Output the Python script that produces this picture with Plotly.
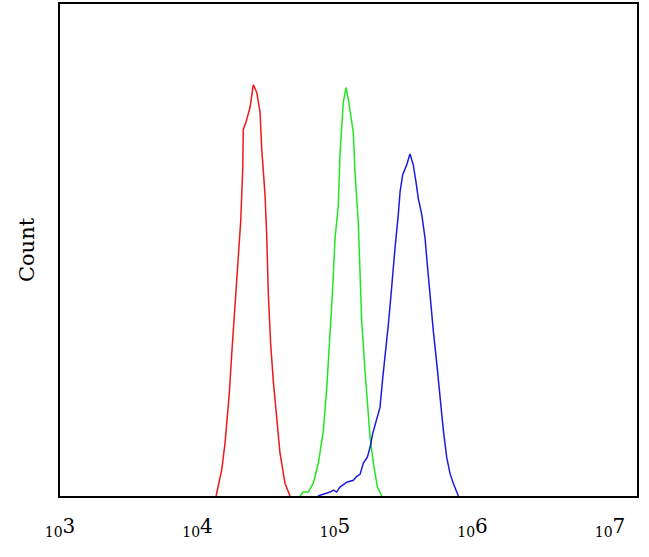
import plotly.graph_objects as go

# log10 fluorescence intensity and counts (arbitrary units, axis top = 100)
red_x = [4.135, 4.176, 4.200, 4.231, 4.249, 4.273, 4.297, 4.314, 4.329, 4.333, 4.353, 4.382,
         4.406, 4.431, 4.455, 4.467, 4.491, 4.503, 4.515, 4.532, 4.551, 4.576, 4.600, 4.636, 4.673]
red_y = [0, 5.3, 10.7, 20.8, 28.9, 38.2, 47.7, 55.8, 66.5, 74.5, 76.0, 79.0,
         83.6, 82.0, 78.0, 70.5, 61.2, 53.1, 41.0, 30.9, 23.4, 15.4, 8.7, 2.6, 0]

green_x = [4.745, 4.769, 4.806, 4.842, 4.879, 4.915, 4.940, 4.964, 4.983, 5.000, 5.024, 5.036,
           5.060, 5.080, 5.097, 5.133, 5.145, 5.169, 5.182, 5.194, 5.218, 5.235, 5.255, 5.279,
           5.308, 5.340]
green_y = [0, 0.8, 0.8, 2.6, 6.7, 13.3, 22.0, 32.1, 42.2, 52.3, 59.2, 69.3,
           80.0, 83.0, 80.6, 73.9, 65.9, 55.8, 45.7, 35.6, 25.5, 18.8, 11.9, 6.7,
           1.8, 0]

blue_x = [4.876, 4.964, 4.988, 5.012, 5.036, 5.085, 5.133, 5.158, 5.182, 5.206, 5.235, 5.255,
          5.274, 5.303, 5.327, 5.347, 5.364, 5.388, 5.405, 5.420, 5.436, 5.460, 5.473, 5.492,
          5.521, 5.545, 5.569, 5.589, 5.606, 5.631, 5.655, 5.671, 5.691, 5.715, 5.740, 5.764,
          5.788, 5.812, 5.836, 5.860, 5.897]
blue_y = [0, 0.8, 1.2, 0.8, 1.8, 2.8, 3.2, 4.0, 4.4, 6.7, 7.9, 9.9,
          12.7, 15.4, 18.0, 24.0, 28.1, 34.9, 40.2, 45.7, 50.3, 57.2, 61.8, 65.3,
          67.3, 69.5, 67.3, 63.8, 60.4, 57.2, 52.3, 47.1, 40.2, 33.5, 26.9, 20.0,
          13.3, 7.9, 4.6, 2.6, 0]

tick_vals = [3, 4, 5, 6, 7]
tick_text = ["<sub>10</sub>3", "<sub>10</sub>4", "<sub>10</sub>5", "<sub>10</sub>6", "<sub>10</sub>7"]

FONT = "DejaVu Serif"

fig = go.Figure()
for xs, ys, col in [(red_x, red_y, "#f01818"), (green_x, green_y, "#22e622"), (blue_x, blue_y, "#1c1ce0")]:
    fig.add_trace(go.Scatter(x=xs, y=ys, mode="lines", line=dict(color=col, width=1.5),
                             showlegend=False, hoverinfo="skip"))

fig.update_layout(
    width=649, height=557,
    margin=dict(l=60, r=12, t=2, b=61),
    paper_bgcolor="white", plot_bgcolor="white",
    font=dict(family=FONT, color="black"),
)
fig.update_xaxes(
    range=[3, 7.196], tickvals=tick_vals, ticktext=tick_text,
    tickfont=dict(family=FONT, size=20, color="black"),
    ticks="outside", ticklen=11, tickcolor="rgba(0,0,0,0)",
    showgrid=False, zeroline=False,
    showline=True, linecolor="black", linewidth=2, mirror=True,
)
fig.update_yaxes(
    range=[0, 100], showticklabels=False, ticks="",
    showgrid=False, zeroline=False,
    showline=True, linecolor="black", linewidth=2, mirror=True,
    title=dict(text="Count", font=dict(family=FONT, size=21, color="black"), standoff=18),
)

fig.write_html("out.html", config={"displayModeBar": False},
               post_script="document.body.style.margin='0px';")
